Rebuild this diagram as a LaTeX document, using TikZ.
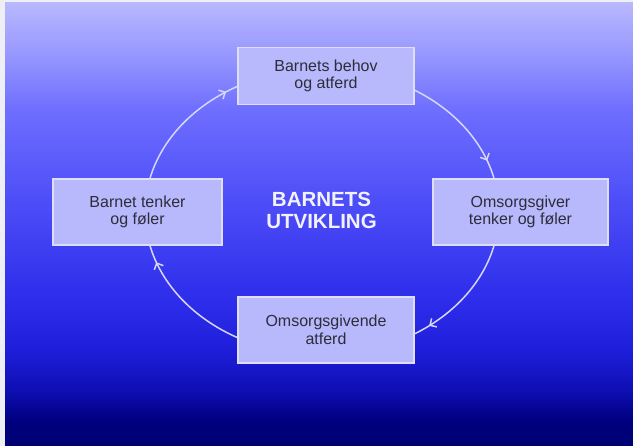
\documentclass[tikz,border=0pt]{standalone}
\usepackage{fontspec}
\setmainfont{Liberation Sans}
\usetikzlibrary{arrows.meta,decorations.markings,calc}
\definecolor{boxfill}{RGB}{184,184,252}
\definecolor{boxline}{RGB}{222,222,246}
\definecolor{txt}{RGB}{45,45,58}
\definecolor{arcc}{RGB}{214,214,250}
\definecolor{titlec}{RGB}{242,242,255}
\definecolor{edgec}{RGB}{238,238,246}
\definecolor{g1}{RGB}{0,0,115}
\definecolor{g2}{RGB}{0,0,128}
\definecolor{g3}{RGB}{15,15,180}
\definecolor{g4}{RGB}{30,30,218}
\definecolor{g5}{RGB}{45,45,235}
\definecolor{g6}{RGB}{78,78,248}
\definecolor{g7}{RGB}{110,110,255}
\definecolor{g8}{RGB}{148,148,255}
\definecolor{g9}{RGB}{184,184,255}
\pgfdeclareverticalshading{bgshade}{100bp}{color(0bp)=(g1); color(25bp)=(g1); color(27.94bp)=(g2); color(31.33bp)=(g3); color(35.86bp)=(g4); color(41.52bp)=(g5); color(52.83bp)=(g6); color(63.01bp)=(g7); color(68.67bp)=(g8); color(75bp)=(g9); color(100bp)=(g9)}
\tikzset{
  boxnode/.style={draw=boxline, line width=1.2pt, fill=boxfill, inner sep=0pt, align=center,
    font=\fontsize{16}{17.5}\selectfont, text=txt},
  arcline/.style={draw=arcc, line width=1.5pt, postaction={decorate},
    decoration={markings, mark=at position #1 with {\arrow[arcc,line width=1.5pt]{Straight Barb[length=5pt,width=10pt]}}}},
  arcline/.default=0.88,
  titlenode/.style={align=center, font=\bfseries\fontsize{20.5}{22}\selectfont, text=titlec}
}
\begin{document}
\begin{tikzpicture}[x=1pt,y=1pt]
\useasboundingbox (0,0) rectangle (633,446);
\fill[edgec] (0,0) rectangle (633,446);
\shade[shading=bgshade] (5,0) rectangle (633,443);
\coordinate (E) at (322,234);
\coordinate (p1) at ($(E)+(166.7:177pt and 143pt)$);
\coordinate (p3) at ($(E)+(58.7:177pt and 143pt)$);
\coordinate (p5) at ($(E)+(-13.3:177pt and 143pt)$);
\coordinate (p7) at ($(E)+(-118.3:177pt and 143pt)$);
\draw[arcline=0.9] (p1) arc[start angle=166.7, end angle=118.3, x radius=177pt, y radius=143pt];
\draw[arcline=0.84] (p3) arc[start angle=58.7, end angle=13.3, x radius=177pt, y radius=143pt];
\draw[arcline=0.86] (p5) arc[start angle=-13.3, end angle=-58.7, x radius=177pt, y radius=143pt];
\draw[arcline=0.86] (p7) arc[start angle=-118.3, end angle=-166.7, x radius=177pt, y radius=143pt];
\node[boxnode, minimum width=176pt, minimum height=57pt] (T) at (326,370) {Barnets behov\\og atferd};
\node[boxnode, minimum width=169pt, minimum height=66pt] (L) at (137.5,234) {Barnet tenker\\og føler};
\node[boxnode, minimum width=175pt, minimum height=66pt] (R) at (520.5,234) {Omsorgsgiver\\tenker og føler};
\node[boxnode, minimum width=176pt, minimum height=66pt] (B) at (326,116) {Omsorgsgivende\\atferd};
\node[titlenode] (C) at (321.5,236) {BARNETS\\UTVIKLING};
\end{tikzpicture}
\end{document}
